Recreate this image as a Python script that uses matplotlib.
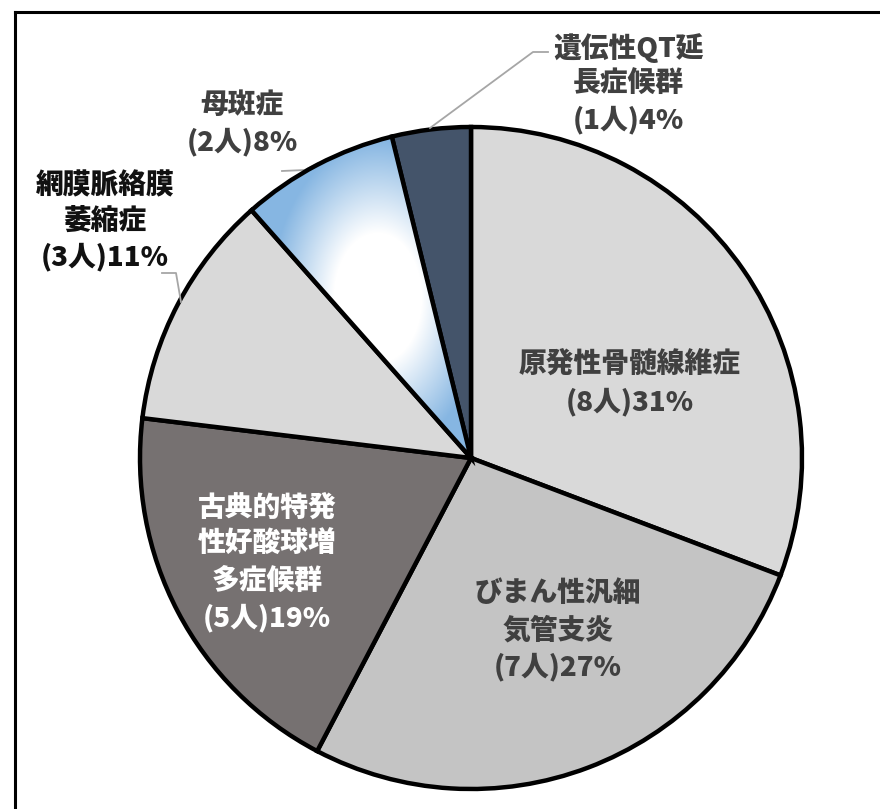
import numpy as np
import matplotlib
matplotlib.use("Agg")
import matplotlib.pyplot as plt
from matplotlib.lines import Line2D

plt.rcParams['font.family'] = ['Noto Sans CJK JP', 'DejaVu Sans']

# ---- data ----
categories = [
    ["原発性骨髄線維症"],
    ["びまん性汎細", "気管支炎"],
    ["古典的特発", "性好酸球増", "多症候群"],
    ["網膜脈絡膜", "萎縮症"],
    ["母斑症"],
    ["遺伝性QT延", "長症候群"],
]
counts = [8, 7, 5, 3, 2, 1]
pcts = [31, 27, 19, 11, 8, 4]

# ---- style / layout ----
W, H = 880, 809
colors = ["#d9d9d9", "#c4c4c4", "#767171", "#d9d9d9", "none", "#44546a"]
text_colors = ["#404040", "#404040", "white", "#111111", "#404040", "#404040"]
# label line-block: (x center px, first line y px, line step px)
label_layout = [
    (630, 363, 39),
    (558, 593, 37),
    (267, 507, 37),
    (105, 185, 36),
    (242, 105, 37),
    (628, 48, 36),
]
cx, cy, R = 471, 458, 331

fig = plt.figure(figsize=(W / 100, H / 100), dpi=100)
ax = fig.add_axes([0, 0, 1, 1])

def Y(y):
    return H - y

wedges, _ = ax.pie(counts, startangle=90, counterclock=False, center=(cx, Y(cy)),
                   radius=R, colors=[c if c != "none" else "white" for c in colors],
                   wedgeprops=dict(edgecolor="black", linewidth=3.2))
ax.set_xlim(0, W)
ax.set_ylim(0, H)
ax.set_aspect('auto')
ax.axis('off')

# gradient fill for wedge 4 (母斑症)
gw = wedges[4]
x0, x1, y0p, y1p = 250, 480, 125, 465
nx, ny = 230, 340
xs = np.linspace(x0, x1, nx)
ys = np.linspace(y0p, y1p, ny)
XX, YY = np.meshgrid(xs, ys)
d = np.sqrt(((XX - 378) / 105.0) ** 2 + ((YY - 298) / 155.0) ** 2)
t = np.clip((d - 0.42) / 0.6, 0, 1)
blue = np.array([0x86, 0xb6, 0xe2]) / 255.0
img = np.ones((ny, nx, 3)) * (1 - t[..., None]) + blue * t[..., None]
im = ax.imshow(img, extent=(x0, x1, Y(y1p), Y(y0p)), origin='upper',
               zorder=gw.get_zorder() + 0.1, interpolation='bilinear')
im.set_clip_path(gw)
gw.set_facecolor('none')
gw.set_zorder(gw.get_zorder() + 0.2)
ax.set_xlim(0, W)
ax.set_ylim(0, H)
ax.set_aspect('auto')

# leader lines (px coords)
lc = "#a6a6a6"
leaders = [
    [(162, 273), (176, 273), (181, 302)],
    [(282, 171), (305, 170), (318, 163)],
    [(548, 52), (533, 52), (430, 128)],
]
for pts in leaders:
    ax.add_line(Line2D([p[0] for p in pts], [Y(p[1]) for p in pts],
                       color=lc, lw=1.3, zorder=1))

# labels
for lines, n, p, (lx, ly, step), tc in zip(categories, counts, pcts, label_layout, text_colors):
    all_lines = lines + [f"({n}人){p}%"]
    for i, s in enumerate(all_lines):
        ax.text(lx, Y(ly + i * step), s, ha='center', va='center', fontsize=20,
                fontweight='heavy', color=tc, zorder=10)

# figure frame
ax.add_line(Line2D([15, 15], [Y(12), Y(830)], color='black', lw=2.2, zorder=20))
ax.add_line(Line2D([15, 900], [Y(12), Y(12)], color='black', lw=2.2, zorder=20))

fig.savefig("out.png", dpi=100)
